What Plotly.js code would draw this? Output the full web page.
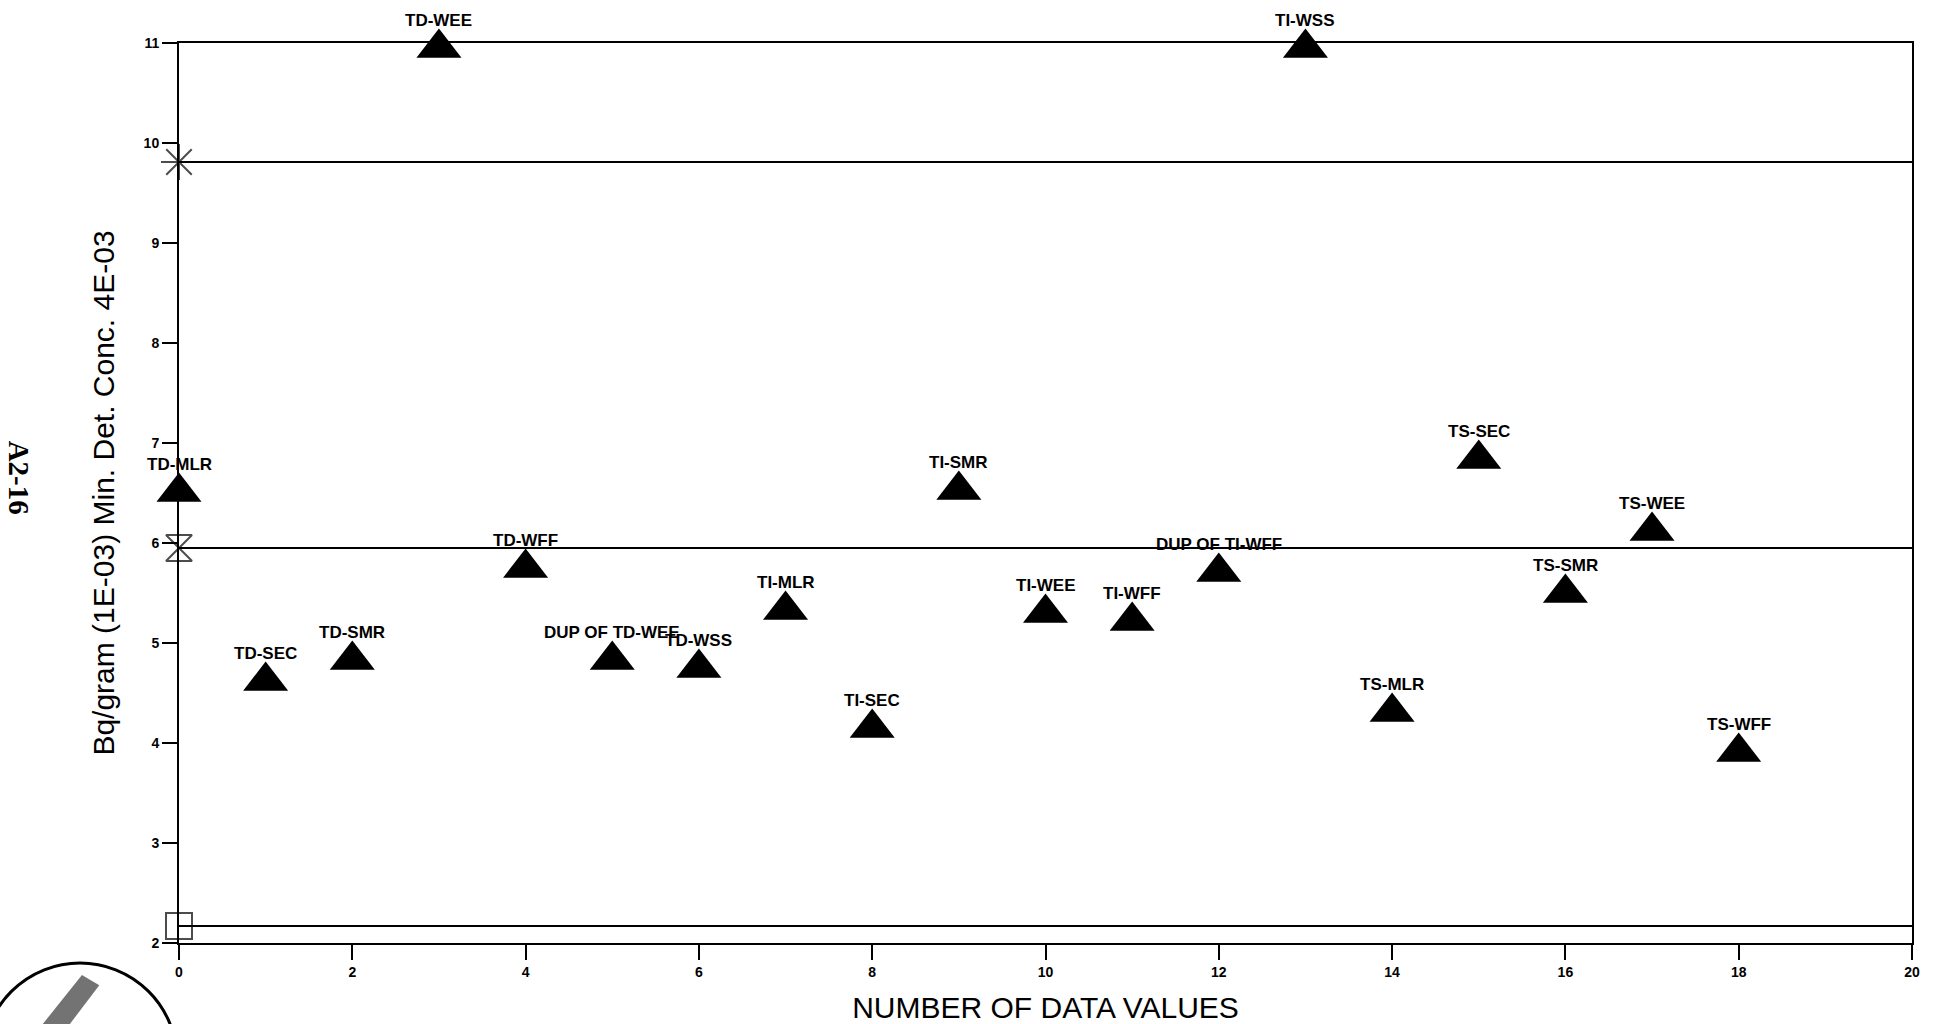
<!DOCTYPE html>
<html>
<head>
<meta charset="utf-8">
<script src="https://cdn.plot.ly/plotly-3.0.1.min.js"></script>
<style>
  html, body { margin: 0; padding: 0; background: #ffffff; }
  #chart { width: 1939px; height: 1024px; }
</style>
</head>
<body>
<div id="chart"></div>
<script>
// ---- data ----
const sampleIndex = [0, 1, 2, 3, 4, 5, 6, 7, 8, 9, 10, 11, 12, 13, 14, 15, 16, 17, 18];
const sampleLabels = ['TD-MLR', 'TD-SEC', 'TD-SMR', 'TD-WEE', 'TD-WFF', 'DUP OF TD-WEE', 'TD-WSS',
  'TI-MLR', 'TI-SEC', 'TI-SMR', 'TI-WEE', 'TI-WFF', 'DUP OF TI-WFF', 'TI-WSS',
  'TS-MLR', 'TS-SEC', 'TS-SMR', 'TS-WEE', 'TS-WFF'];
const sampleValues = [6.51, 4.62, 4.83, 10.95, 5.75, 4.83, 4.75, 5.33, 4.15, 6.53, 5.30, 5.22, 5.71, 10.95,
  4.31, 6.84, 5.50, 6.12, 3.91];

const limitNames = ['Upper', 'Mean', 'Lower'];
const limitValues = [9.81, 5.95, 2.17];
const limitSymbols = ['asterisk-open', 'hourglass-open', 'square-open'];
const limitSpan = [0, 20];

const xTickVals = [0, 2, 4, 6, 8, 10, 12, 14, 16, 18, 20];
const yTickVals = [2, 3, 4, 5, 6, 7, 8, 9, 10, 11];

const xTitle = 'NUMBER OF DATA VALUES';
const yTitle = 'Bq/gram (1E-03) Min. Det. Conc. 4E-03';
const pageNote = 'A2-16';

// ---- traces ----
const traces = [];
limitValues.forEach((v, i) => {
  traces.push({
    type: 'scatter', mode: 'lines', name: limitNames[i],
    x: limitSpan, y: [v, v],
    line: { color: '#000', width: 2 },
    hoverinfo: 'skip', cliponaxis: false
  });
});
traces.push({
  type: 'scatter', mode: 'markers', name: 'limit markers',
  x: limitValues.map(() => limitSpan[0]), y: limitValues,
  marker: { symbol: limitSymbols, size: [30, 26, 26], color: '#000', line: { color: '#000', width: 2 } },
  cliponaxis: false
});
traces.push({
  type: 'scatter', mode: 'markers', name: 'samples',
  x: sampleIndex, y: sampleValues,
  marker: { symbol: 'triangle-up', size: 39, color: '#000', line: { width: 0 } },
  cliponaxis: false
});

const labelFont = { family: 'Liberation Sans Narrow, Liberation Sans, Arial, sans-serif', size: 17, color: '#000', weight: 'bold' };
const annotations = sampleIndex.map((xv, i) => ({
  x: xv, y: sampleValues[i], xref: 'x', yref: 'y',
  text: sampleLabels[i], showarrow: false,
  xanchor: 'center', yanchor: 'bottom', yshift: 16,
  font: labelFont
}));
annotations.push({
  xref: 'paper', yref: 'paper', x: -0.0923, y: 0.517,
  text: pageNote, showarrow: false, textangle: 90,
  xanchor: 'center', yanchor: 'middle',
  font: { family: 'Liberation Serif, Times New Roman, serif', size: 29, color: '#000', weight: 'bold' }
});

const tickFont = { family: 'Liberation Sans Narrow, Liberation Sans, Arial, sans-serif', size: 14, color: '#000', weight: 'bold' };

const layout = {
  width: 1939, height: 1024,
  margin: { l: 179, r: 27, t: 43, b: 81, pad: 0 },
  paper_bgcolor: '#fff', plot_bgcolor: '#fff',
  showlegend: false,
  xaxis: {
    range: [0, 20], tickvals: xTickVals, ticks: 'outside', ticklen: 15, tickwidth: 2, tickcolor: '#000',
    showline: true, linewidth: 2, linecolor: '#000', mirror: true,
    showgrid: false, zeroline: false, tickfont: tickFont, automargin: false,
    title: { text: xTitle, standoff: 19, font: { family: 'Liberation Sans, Arial, sans-serif', size: 30, color: '#000' } }
  },
  yaxis: {
    range: [2, 11], tickvals: yTickVals, ticks: 'outside', ticklen: 15, tickwidth: 2, tickcolor: '#000',
    showline: true, linewidth: 2, linecolor: '#000', mirror: true,
    showgrid: false, zeroline: false, tickfont: tickFont, automargin: false,
    title: { text: yTitle, standoff: 20, font: { family: 'Liberation Sans, Arial, sans-serif', size: 30, color: '#000' } }
  },
  annotations: annotations,
  shapes: [
    { type: 'circle', xref: 'paper', yref: 'paper', x0: -0.1131, x1: -0.00115, y0: -0.2378, y1: -0.0222,
      line: { color: '#000', width: 3 } },
    { type: 'path', xref: 'paper', yref: 'paper',
      path: 'M -0.0560 -0.0356 L -0.0460 -0.0470 L -0.0700 -0.1078 L -0.0860 -0.1078 Z',
      fillcolor: '#444', opacity: 0.75, line: { width: 0 } }
  ]
};

Plotly.newPlot('chart', traces, layout, { displayModeBar: false, staticPlot: true });
</script>
</body>
</html>
